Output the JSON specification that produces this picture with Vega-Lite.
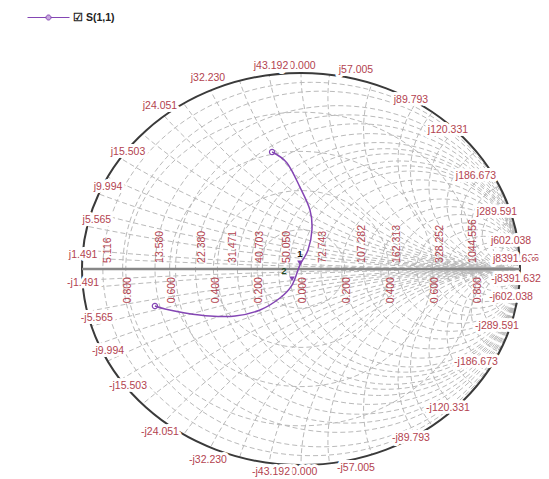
{
  "$schema": "https://vega.github.io/schema/vega-lite/v6.json",
  "width": 549,
  "height": 479,
  "autosize": "none",
  "padding": 0,
  "background": "white",
  "config": {"view": {"stroke": null}, "text": {"font": "Liberation Sans"}},
  "datasets": {
    "grid": [
      {"kind": "r", "gx": 0.04762, "gy": 0, "rad": 0.95238},
      {"kind": "r", "gx": 0.09281, "gy": 0, "rad": 0.90719},
      {"kind": "r", "gx": 0.16667, "gy": 0, "rad": 0.83333},
      {"kind": "r", "gx": 0.21359, "gy": 0, "rad": 0.78641},
      {"kind": "r", "gx": 0.25926, "gy": 0, "rad": 0.74074},
      {"kind": "r", "gx": 0.3092, "gy": 0, "rad": 0.6908},
      {"kind": "r", "gx": 0.35484, "gy": 0, "rad": 0.64516},
      {"kind": "r", "gx": 0.38628, "gy": 0, "rad": 0.61372},
      {"kind": "r", "gx": 0.41176, "gy": 0, "rad": 0.58824},
      {"kind": "r", "gx": 0.44877, "gy": 0, "rad": 0.55123},
      {"kind": "r", "gx": 0.47368, "gy": 0, "rad": 0.52632},
      {"kind": "r", "gx": 0.50025, "gy": 0, "rad": 0.49975},
      {"kind": "r", "gx": 0.54545, "gy": 0, "rad": 0.45455},
      {"kind": "r", "gx": 0.59265, "gy": 0, "rad": 0.40735},
      {"kind": "r", "gx": 0.64286, "gy": 0, "rad": 0.35714},
      {"kind": "r", "gx": 0.6821, "gy": 0, "rad": 0.3179},
      {"kind": "r", "gx": 0.72222, "gy": 0, "rad": 0.27778},
      {"kind": "r", "gx": 0.7645, "gy": 0, "rad": 0.2355},
      {"kind": "r", "gx": 0.8, "gy": 0, "rad": 0.2},
      {"kind": "r", "gx": 0.83333, "gy": 0, "rad": 0.16667},
      {"kind": "r", "gx": 0.86781, "gy": 0, "rad": 0.13219},
      {"kind": "r", "gx": 0.88889, "gy": 0, "rad": 0.11111},
      {"kind": "r", "gx": 0.90909, "gy": 0, "rad": 0.09091},
      {"kind": "r", "gx": 0.9375, "gy": 0, "rad": 0.0625},
      {"kind": "r", "gx": 0.95432, "gy": 0, "rad": 0.04568},
      {"kind": "r", "gx": 0.96774, "gy": 0, "rad": 0.03226},
      {"kind": "r", "gx": 0.98039, "gy": 0, "rad": 0.01961},
      {"kind": "x", "gx": 1, "gy": 33.557, "rad": 33.557},
      {"kind": "x", "gx": 1, "gy": 20, "rad": 20},
      {"kind": "x", "gx": 1, "gy": 8.985, "rad": 8.985},
      {"kind": "x", "gx": 1, "gy": 6.6667, "rad": 6.6667},
      {"kind": "x", "gx": 1, "gy": 5.0025, "rad": 5.0025},
      {"kind": "x", "gx": 1, "gy": 4, "rad": 4},
      {"kind": "x", "gx": 1, "gy": 3.2248, "rad": 3.2248},
      {"kind": "x", "gx": 1, "gy": 2.5, "rad": 2.5},
      {"kind": "x", "gx": 1, "gy": 2.079, "rad": 2.079},
      {"kind": "x", "gx": 1, "gy": 1.8182, "rad": 1.8182},
      {"kind": "x", "gx": 1, "gy": 1.5513, "rad": 1.5513},
      {"kind": "x", "gx": 1, "gy": 1.3333, "rad": 1.3333},
      {"kind": "x", "gx": 1, "gy": 1.1577, "rad": 1.1577},
      {"kind": "x", "gx": 1, "gy": 1, "rad": 1},
      {"kind": "x", "gx": 1, "gy": 0.87712, "rad": 0.87712},
      {"kind": "x", "gx": 1, "gy": 0.71429, "rad": 0.71429},
      {"kind": "x", "gx": 1, "gy": 0.55683, "rad": 0.55683},
      {"kind": "x", "gx": 1, "gy": 0.5, "rad": 0.5},
      {"kind": "x", "gx": 1, "gy": 0.41553, "rad": 0.41553},
      {"kind": "x", "gx": 1, "gy": 0.33333, "rad": 0.33333},
      {"kind": "x", "gx": 1, "gy": 0.26785, "rad": 0.26785},
      {"kind": "x", "gx": 1, "gy": 0.22222, "rad": 0.22222},
      {"kind": "x", "gx": 1, "gy": 0.17266, "rad": 0.17266},
      {"kind": "x", "gx": 1, "gy": 0.125, "rad": 0.125},
      {"kind": "x", "gx": 1, "gy": 0.08306, "rad": 0.08306},
      {"kind": "x", "gx": 1, "gy": 0.05, "rad": 0.05},
      {"kind": "x", "gx": 1, "gy": -33.557, "rad": 33.557},
      {"kind": "x", "gx": 1, "gy": -20, "rad": 20},
      {"kind": "x", "gx": 1, "gy": -8.985, "rad": 8.985},
      {"kind": "x", "gx": 1, "gy": -6.6667, "rad": 6.6667},
      {"kind": "x", "gx": 1, "gy": -5.0025, "rad": 5.0025},
      {"kind": "x", "gx": 1, "gy": -4, "rad": 4},
      {"kind": "x", "gx": 1, "gy": -3.2248, "rad": 3.2248},
      {"kind": "x", "gx": 1, "gy": -2.5, "rad": 2.5},
      {"kind": "x", "gx": 1, "gy": -2.079, "rad": 2.079},
      {"kind": "x", "gx": 1, "gy": -1.8182, "rad": 1.8182},
      {"kind": "x", "gx": 1, "gy": -1.5513, "rad": 1.5513},
      {"kind": "x", "gx": 1, "gy": -1.3333, "rad": 1.3333},
      {"kind": "x", "gx": 1, "gy": -1.1577, "rad": 1.1577},
      {"kind": "x", "gx": 1, "gy": -1, "rad": 1},
      {"kind": "x", "gx": 1, "gy": -0.87712, "rad": 0.87712},
      {"kind": "x", "gx": 1, "gy": -0.71429, "rad": 0.71429},
      {"kind": "x", "gx": 1, "gy": -0.55683, "rad": 0.55683},
      {"kind": "x", "gx": 1, "gy": -0.5, "rad": 0.5},
      {"kind": "x", "gx": 1, "gy": -0.41553, "rad": 0.41553},
      {"kind": "x", "gx": 1, "gy": -0.33333, "rad": 0.33333},
      {"kind": "x", "gx": 1, "gy": -0.26785, "rad": 0.26785},
      {"kind": "x", "gx": 1, "gy": -0.22222, "rad": 0.22222},
      {"kind": "x", "gx": 1, "gy": -0.17266, "rad": 0.17266},
      {"kind": "x", "gx": 1, "gy": -0.125, "rad": 0.125},
      {"kind": "x", "gx": 1, "gy": -0.08306, "rad": 0.08306},
      {"kind": "x", "gx": 1, "gy": -0.05, "rad": 0.05},
      {"kind": "g", "gx": 0, "gy": 0, "rad": 0.2},
      {"kind": "g", "gx": 0, "gy": 0, "rad": 0.4},
      {"kind": "g", "gx": 0, "gy": 0, "rad": 0.6},
      {"kind": "g", "gx": 0, "gy": 0, "rad": 0.8}
    ],
    "rimTop": [
      {"t": "j50.000", "gx": -0.012, "gy": 1.036},
      {"t": "-j50.000", "gx": -0.012, "gy": -1.036}
    ],
    "rim": [
      {"t": "j1.491", "gx": -0.995, "gy": 0.071},
      {"t": "j5.565", "gx": -0.932, "gy": 0.25},
      {"t": "j9.994", "gx": -0.881, "gy": 0.418},
      {"t": "j15.503", "gx": -0.79, "gy": 0.597},
      {"t": "j24.051", "gx": -0.644, "gy": 0.832},
      {"t": "j32.230", "gx": -0.425, "gy": 0.974},
      {"t": "j43.192", "gx": -0.137, "gy": 1.036},
      {"t": "j57.005", "gx": 0.251, "gy": 1.015},
      {"t": "j89.793", "gx": 0.502, "gy": 0.862},
      {"t": "j120.331", "gx": 0.671, "gy": 0.709},
      {"t": "j186.673", "gx": 0.799, "gy": 0.474},
      {"t": "j289.591", "gx": 0.895, "gy": 0.291},
      {"t": "j602.038", "gx": 0.959, "gy": 0.143},
      {"t": "j8391.632", "gx": 0.982, "gy": 0.051},
      {"t": "-j1.491", "gx": -0.995, "gy": -0.071},
      {"t": "-j5.565", "gx": -0.932, "gy": -0.25},
      {"t": "-j9.994", "gx": -0.881, "gy": -0.418},
      {"t": "-j15.503", "gx": -0.79, "gy": -0.597},
      {"t": "-j24.051", "gx": -0.644, "gy": -0.832},
      {"t": "-j32.230", "gx": -0.425, "gy": -0.974},
      {"t": "-j43.192", "gx": -0.137, "gy": -1.036},
      {"t": "-j57.005", "gx": 0.251, "gy": -1.015},
      {"t": "-j89.793", "gx": 0.502, "gy": -0.862},
      {"t": "-j120.331", "gx": 0.671, "gy": -0.709},
      {"t": "-j186.673", "gx": 0.799, "gy": -0.474},
      {"t": "-j289.591", "gx": 0.895, "gy": -0.291},
      {"t": "-j602.038", "gx": 0.959, "gy": -0.143},
      {"t": "-j8391.632", "gx": 0.982, "gy": -0.051}
    ],
    "rimEnd": [
      {"t": "∞", "gx": 1.07, "gy": 0.051}
    ],
    "resLabels": [
      {"t": "5.116", "gx": -0.881, "gy": 0.031},
      {"t": "13.580", "gx": -0.644, "gy": 0.031},
      {"t": "22.380", "gx": -0.452, "gy": 0.031},
      {"t": "31.471", "gx": -0.311, "gy": 0.031},
      {"t": "40.703", "gx": -0.187, "gy": 0.031},
      {"t": "50.050", "gx": -0.064, "gy": 0.031},
      {"t": "72.743", "gx": 0.1, "gy": 0.031},
      {"t": "107.282", "gx": 0.279, "gy": 0.031},
      {"t": "162.313", "gx": 0.438, "gy": 0.031},
      {"t": "328.252", "gx": 0.635, "gy": 0.031},
      {"t": "1044.556", "gx": 0.785, "gy": 0.031}
    ],
    "magLabels": [
      {"t": "0.800", "gx": -0.79, "gy": -0.041},
      {"t": "0.600", "gx": -0.59, "gy": -0.041},
      {"t": "0.400", "gx": -0.39, "gy": -0.041},
      {"t": "0.200", "gx": -0.19, "gy": -0.041},
      {"t": "0.000", "gx": 0.01, "gy": -0.041},
      {"t": "0.200", "gx": 0.21, "gy": -0.041},
      {"t": "0.400", "gx": 0.41, "gy": -0.041},
      {"t": "0.600", "gx": 0.61, "gy": -0.041},
      {"t": "0.800", "gx": 0.81, "gy": -0.041}
    ],
    "s11": [
      {"series": "S(1,1)", "i": 0, "gx": -0.132, "gy": 0.597},
      {"series": "S(1,1)", "i": 1, "gx": -0.064, "gy": 0.541},
      {"series": "S(1,1)", "i": 2, "gx": -0.005, "gy": 0.418},
      {"series": "S(1,1)", "i": 3, "gx": 0.041, "gy": 0.301},
      {"series": "S(1,1)", "i": 4, "gx": 0.05, "gy": 0.199},
      {"series": "S(1,1)", "i": 5, "gx": 0.032, "gy": 0.097},
      {"series": "S(1,1)", "i": 6, "gx": -0.005, "gy": 0.02},
      {"series": "S(1,1)", "i": 7, "gx": -0.041, "gy": -0.082},
      {"series": "S(1,1)", "i": 8, "gx": -0.096, "gy": -0.148},
      {"series": "S(1,1)", "i": 9, "gx": -0.187, "gy": -0.209},
      {"series": "S(1,1)", "i": 10, "gx": -0.301, "gy": -0.24},
      {"series": "S(1,1)", "i": 11, "gx": -0.416, "gy": -0.24},
      {"series": "S(1,1)", "i": 12, "gx": -0.53, "gy": -0.224},
      {"series": "S(1,1)", "i": 13, "gx": -0.621, "gy": -0.204},
      {"series": "S(1,1)", "i": 14, "gx": -0.667, "gy": -0.189}
    ],
    "ends": [
      {"gx": -0.132, "gy": 0.597},
      {"gx": -0.667, "gy": -0.189}
    ],
    "markers": [
      {"m": "1", "gx": -0.005, "gy": 0.031, "lx": -0.005, "ly": 0.077, "col": "#111111"},
      {"m": "2", "gx": -0.041, "gy": -0.05, "lx": -0.078, "ly": -0.01, "col": "#1f4a1f"}
    ]
  },
  "encoding": {
    "x": {"field": "gx", "type": "quantitative", "scale": {"domain": [-1.37443, 1.13242], "nice": false, "zero": false}, "axis": null},
    "y": {"field": "gy", "type": "quantitative", "scale": {"domain": [-1.07143, 1.37245], "nice": false, "zero": false}, "axis": null}
  },
  "layer": [
    {
      "data": {"name": "grid"},
      "mark": {"type": "point", "shape": "M1,0C1,0.4943,0.5523,0.895,0,0.895C-0.5523,0.895,-1,0.4943,-1,0C-1,-0.4943,-0.5523,-0.895,0,-0.895C0.5523,-0.895,1,-0.4943,1,0Z", "filled": false, "color": "#bababa", "strokeWidth": 1, "strokeDash": [5, 3], "opacity": 1},
      "encoding": {
        "size": {"field": "rad", "type": "quantitative", "scale": {"type": "pow", "exponent": 2, "domain": [0, 1], "range": [0, 191844]}, "legend": null}
      }
    },
    {
      "data": {"values": [{"gx": 0, "gy": 0}]},
      "mark": {"type": "point", "shape": "M-4,-4H4V4H-4Z M1,0C1,-0.4943,0.5523,-0.895,0,-0.895C-0.5523,-0.895,-1,-0.4943,-1,0C-1,0.4943,-0.5523,0.895,0,0.895C0.5523,0.895,1,0.4943,1,0Z", "filled": true, "color": "white", "size": 191844, "opacity": 1, "strokeWidth": 0}
    },
    {
      "data": {"values": [{"gx": 0, "gy": 0}]},
      "mark": {"type": "point", "shape": "M1,0C1,0.4943,0.5523,0.895,0,0.895C-0.5523,0.895,-1,0.4943,-1,0C-1,-0.4943,-0.5523,-0.895,0,-0.895C0.5523,-0.895,1,-0.4943,1,0Z", "filled": false, "color": "#3a3a3a", "strokeWidth": 2, "size": 191844, "opacity": 1}
    },
    {
      "data": {"values": [{"gx": -1, "gx2": 1, "gy": 0}]},
      "mark": {"type": "rule", "color": "#878787", "strokeWidth": 2.5},
      "encoding": {"x2": {"field": "gx2"}}
    },
    {
      "data": {"name": "rimTop"},
      "mark": {"type": "text", "fontSize": 10.5, "stroke": "white", "strokeWidth": 6, "strokeJoin": "round", "fill": "white"},
      "encoding": {"text": {"field": "t"}}
    },
    {
      "data": {"name": "rimTop"},
      "mark": {"type": "text", "fontSize": 10.5, "color": "#b3434f"},
      "encoding": {"text": {"field": "t"}}
    },
    {
      "data": {"name": "rim"},
      "mark": {"type": "text", "fontSize": 10.5, "stroke": "white", "strokeWidth": 6, "strokeJoin": "round", "fill": "white"},
      "encoding": {"text": {"field": "t"}}
    },
    {
      "data": {"name": "rim"},
      "mark": {"type": "text", "fontSize": 10.5, "color": "#b3434f"},
      "encoding": {"text": {"field": "t"}}
    },
    {
      "data": {"name": "rimEnd"},
      "mark": {"type": "text", "fontSize": 11, "stroke": "white", "strokeWidth": 4, "strokeJoin": "round", "fill": "white"},
      "encoding": {"text": {"field": "t"}}
    },
    {
      "data": {"name": "rimEnd"},
      "mark": {"type": "text", "fontSize": 11, "color": "#b3434f"},
      "encoding": {"text": {"field": "t"}}
    },
    {
      "data": {"name": "resLabels"},
      "mark": {"type": "text", "fontSize": 10.5, "angle": 270, "align": "left", "baseline": "middle", "color": "#b3434f"},
      "encoding": {"text": {"field": "t"}}
    },
    {
      "data": {"name": "magLabels"},
      "mark": {"type": "text", "fontSize": 10.5, "angle": 270, "align": "right", "baseline": "middle", "color": "#b3434f"},
      "encoding": {"text": {"field": "t"}}
    },
    {
      "data": {"name": "s11"},
      "mark": {"type": "line", "strokeWidth": 1.5, "interpolate": "cardinal"},
      "encoding": {
        "order": {"field": "i", "type": "quantitative"},
        "color": {
          "field": "series", "type": "nominal",
          "scale": {"range": ["#8446b4"]},
          "legend": {
            "orient": "none", "legendX": 27, "legendY": -4, "title": null, "padding": 0,
            "symbolType": "M-1,0H-0.12M0.12,0H1M-0.12,0C-0.12,-0.066,-0.066,-0.12,0,-0.12C0.066,-0.12,0.12,-0.066,0.12,0C0.12,0.066,0.066,0.12,0,0.12C-0.066,0.12,-0.12,0.066,-0.12,0Z",
            "symbolSize": 1764, "symbolStrokeWidth": 1, "symbolFillColor": "#c8a8de",
            "labelFont": "Liberation Sans", "labelFontWeight": "bold", "labelFontSize": 10.5, "labelColor": "#222222",
            "labelOffset": 3,
            "labelExpr": "'☑   ' + datum.label"
          }
        }
      }
    },
    {
      "data": {"name": "ends"},
      "mark": {"type": "point", "shape": "circle", "filled": false, "color": "#8446b4", "size": 28, "strokeWidth": 1.2, "opacity": 1}
    },
    {
      "data": {"name": "markers"},
      "mark": {"type": "point", "shape": "triangle-down", "filled": true, "color": "#8446b4", "size": 30, "opacity": 1}
    },
    {
      "data": {"name": "markers"},
      "mark": {"type": "text", "fontSize": 9.5, "fontWeight": "bold"},
      "encoding": {
        "x": {"field": "lx", "type": "quantitative"},
        "y": {"field": "ly", "type": "quantitative"},
        "text": {"field": "m"},
        "color": {"field": "col", "type": "nominal", "scale": null}
      }
    }
  ]
}
